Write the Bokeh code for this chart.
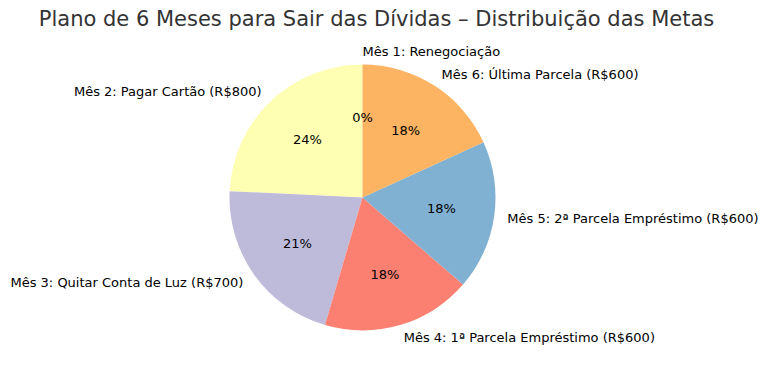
import math
from bokeh.plotting import figure
from bokeh.models import ColumnDataSource, Range1d
from bokeh.core.properties import value
from bokeh.embed import file_html
from bokeh.resources import INLINE

title = "Plano de 6 Meses para Sair das Dívidas – Distribuição das Metas"
labels = [
    "Mês 1: Renegociação",
    "Mês 2: Pagar Cartão (R$800)",
    "Mês 3: Quitar Conta de Luz (R$700)",
    "Mês 4: 1ª Parcela Empréstimo (R$600)",
    "Mês 5: 2ª Parcela Empréstimo (R$600)",
    "Mês 6: Última Parcela (R$600)",
]
values = [0, 800, 700, 600, 600, 600]
colors = ["#8dd3c7", "#ffffb3", "#bebada", "#fb8072", "#80b1d3", "#fdb462"]

W, H = 760, 357
cx, cy, R = 362, H - 197, 133
FONT = "DejaVu Sans"

total = sum(values)
start = math.pi / 2
wx, wy, ws, we, wc = [], [], [], [], []
lx, ly, lt, lalign = [], [], [], []
px, py, pt = [], [], []
for lab, v, c in zip(labels, values, colors):
    ang = 2 * math.pi * v / total
    end = start + ang
    mid = (start + end) / 2
    if v > 0:
        wx.append(cx); wy.append(cy); ws.append(start); we.append(end); wc.append(c)
    x = math.cos(mid); y = math.sin(mid)
    lx.append(cx + 1.1 * R * x); ly.append(cy + 1.1 * R * y); lt.append(lab)
    lalign.append("left" if x > -1e-9 else "right")
    px.append(cx + 0.6 * R * x); py.append(cy + 0.6 * R * y)
    pt.append(f"{100 * v / total:.0f}%")
    start = end

p = figure(width=W, height=H, output_backend="svg", toolbar_location=None,
           x_range=Range1d(0, W), y_range=Range1d(0, H), min_border=0)
p.axis.visible = False
p.grid.visible = False
p.outline_line_color = None

p.wedge(x=wx, y=wy, radius=R, start_angle=ws, end_angle=we, fill_color=wc,
        line_color=None, direction="anticlock")

src = ColumnDataSource(dict(x=lx, y=ly, t=lt, a=lalign))
p.text(x="x", y="y", text="t", text_align="a", source=src, text_baseline="middle",
       text_font=value(FONT), text_font_size="13px", text_color="black")
p.text(x=px, y=py, text=pt, text_align="center", text_baseline="middle",
       text_font=value(FONT), text_font_size="13px", text_color="black")

p.text(x=[376], y=[H - 18], text=[title], text_align="center", text_baseline="middle",
       text_font=value(FONT), text_font_size="21px", text_color="#333333")

open("out.html", "w").write(file_html(p, INLINE))
